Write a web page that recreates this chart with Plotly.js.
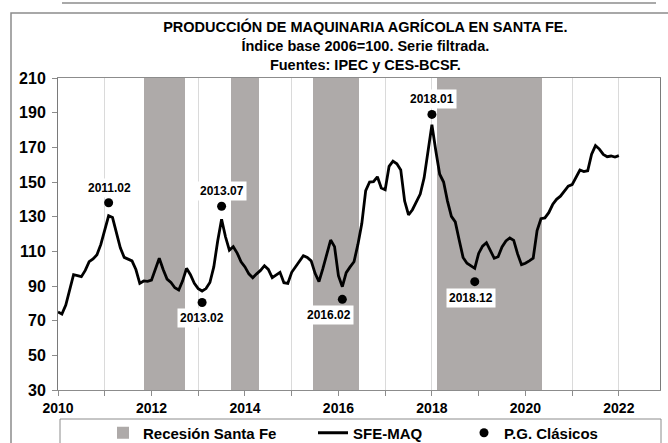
<!DOCTYPE html>
<html>
<head>
<meta charset="utf-8">
<script src="https://cdn.plot.ly/plotly-3.0.1.min.js"></script>
<style>
html,body{margin:0;padding:0;background:#fff;}
#chart{width:668px;height:443px;}
</style>
</head>
<body>
<div id="chart"></div>
<script>
// ---------- DATA ----------
const years = [2010, 2011, 2012, 2013, 2014, 2015, 2016, 2017, 2018, 2019, 2020, 2021, 2022];
const sfe2010 = [75, 73.8, 79, 88.5, 96.5, 96, 95.4, 99, 104, 105.6, 108, 114];
const sfe2011 = [122.3, 130.5, 129.5, 120, 112, 106.5, 105.5, 104.5, 99.5, 91.5, 92.9, 92.7];
const sfe2012 = [93.4, 100, 106, 99.5, 94, 92, 89, 87.7, 93, 100.2, 96.5, 91.5];
const sfe2013 = [88.5, 87.1, 88.5, 92, 101, 116, 128.5, 118.4, 110.7, 112.7, 109, 104];
const sfe2014 = [101, 97, 94.8, 97, 99, 101.7, 99.6, 94.8, 96.5, 97.9, 91.9, 91.5];
const sfe2015 = [97.9, 101, 104.5, 107.5, 106.5, 104.5, 97.3, 92.5, 100, 108.7, 116.5, 112.7];
const sfe2016 = [96, 89.6, 97.7, 101, 104, 114, 126, 145, 150, 150.2, 153, 146.5];
const sfe2017 = [145.5, 159, 162, 160.5, 157, 139, 131, 134, 138.5, 143, 152.4, 168];
const sfe2018 = [183, 168, 154.5, 150, 139, 130.2, 127, 116.5, 106.5, 103.1, 101.5, 100.2];
const sfe2019 = [108.8, 113, 115, 110.7, 106, 106.9, 112.5, 116, 117.7, 116.3, 108.5, 102.3];
const sfe2020 = [103.1, 104.5, 106, 122, 128.8, 129.3, 132.3, 137, 140, 141.8, 145, 147.6];
const sfe2021 = [148.5, 152.5, 156.9, 156, 156.5, 166, 171, 169, 165.9, 164.6, 165, 164.4];
const sfe2022 = [165.2];

const recessionStart = [2011.83, 2013.71, 2015.46, 2018.11];
const recessionEnd   = [2012.72, 2014.29, 2016.45, 2020.35];

const pgLabels = ['2011.02', '2013.02', '2013.07', '2016.02', '2018.01', '2018.12'];
const pgValues = [138, 80.5, 136, 82.3, 189, 92.5];

const xTickValues = [2010, 2012, 2014, 2016, 2018, 2020, 2022];
const xTickLabels = ['2010', '2012', '2014', '2016', '2018', '2020', '2022'];
const yTickValues = [30, 50, 70, 90, 110, 130, 150, 170, 190, 210];

// ---------- BUILD ----------
const seriesByYear = [sfe2010, sfe2011, sfe2012, sfe2013, sfe2014, sfe2015, sfe2016,
                      sfe2017, sfe2018, sfe2019, sfe2020, sfe2021, sfe2022];
const lineX = [], lineY = [];
seriesByYear.forEach((arr, k) => {
  arr.forEach((v, m) => { lineX.push(years[k] + m / 12); lineY.push(v); });
});

const pgX = pgLabels.map(s => {
  const [y, m] = s.split('.');
  return Number(y) + (Number(m) - 1) / 12;
});

const Y_MIN = 30, Y_MAX = 210;

const FONT = 'Liberation Sans, Arial, Helvetica, sans-serif';

const traces = [
  {
    type: 'bar',
    name: 'Recesión Santa Fe',
    x: recessionStart.map((s, i) => (s + recessionEnd[i]) / 2),
    width: recessionStart.map((s, i) => recessionEnd[i] - s),
    y: recessionStart.map(() => Y_MAX - Y_MIN),
    base: Y_MIN,
    marker: {color: '#aeaaa9', line: {width: 0}},
    hoverinfo: 'skip',
    legend: 'legend'
  },
  {
    type: 'scatter',
    mode: 'lines',
    name: 'SFE-MAQ',
    x: lineX,
    y: lineY,
    line: {color: '#000000', width: 2.8},
    legend: 'legend2'
  },
  {
    type: 'scatter',
    mode: 'markers',
    name: 'P.G. Clásicos',
    x: pgX,
    y: pgValues,
    marker: {color: '#000000', size: 9},
    legend: 'legend3'
  }
];

// label offsets (pixels) – layout only
const labelShift = {
  '2011.02': [1, 15], '2013.07': [0, 15], '2018.01': [0, 15],
  '2013.02': [0, -16], '2016.02': [-13, -16], '2018.12': [-4, -16]
};

const annotations = pgLabels.map((lab, i) => ({
  x: pgX[i], y: pgValues[i], xref: 'x', yref: 'y',
  text: lab, showarrow: false,
  xshift: labelShift[lab][0], yshift: labelShift[lab][1],
  bgcolor: '#ffffff', borderpad: 2,
  font: {family: FONT, size: 12, color: '#000', weight: 'bold'}
}));

// plot area: x 58..660, y 78..390
const PX = px => (px - 58) / 602;
const PY = py => (390 - py) / 312;

const legendCommon = {
  orientation: 'h', yanchor: 'middle', xanchor: 'left',
  bgcolor: 'rgba(0,0,0,0)', borderwidth: 0,
  font: {family: FONT, size: 15, color: '#000', weight: 'bold'}
};

const layout = {
  width: 668, height: 443,
  margin: {l: 58, r: 8, t: 78, b: 53, pad: 0, autoexpand: false},
  paper_bgcolor: '#ffffff',
  plot_bgcolor: '#ffffff',
  font: {family: FONT, color: '#000'},
  showlegend: true,
  bargap: 0,
  title: {
    text: 'PRODUCCIÓN DE MAQUINARIA AGRÍCOLA EN SANTA FE.<br>Índice base 2006=100. Serie filtrada.<br>Fuentes: IPEC y CES-BCSF.',
    font: {family: FONT, size: 14.5, color: '#000', weight: 'bold'},
    xref: 'container', x: 0.547, xanchor: 'center',
    yref: 'container', y: 1 - 32 / 443, yanchor: 'top'
  },
  xaxis: {
    range: [2010, 2022.88],
    tickmode: 'array', tickvals: xTickValues, ticktext: xTickLabels,
    ticks: 'outside', ticklen: 5, tickcolor: '#8c8c8c', tickwidth: 1,
    ticklabelstandoff: 0,
    showgrid: true, gridcolor: '#dadada', gridwidth: 1,
    minor: {dtick: 1, tick0: 2010, ticks: 'outside', ticklen: 5, tickcolor: '#8c8c8c',
            showgrid: true, gridcolor: '#dadada', gridwidth: 1},
    showline: true, linecolor: '#8c8c8c', linewidth: 1, mirror: true,
    zeroline: false, fixedrange: true,
    tickfont: {family: FONT, size: 14, color: '#000', weight: 'bold'}
  },
  yaxis: {
    range: [Y_MIN, Y_MAX],
    tickmode: 'array', tickvals: yTickValues,
    ticks: 'outside', ticklen: 5, tickcolor: '#8c8c8c', tickwidth: 1,
    ticklabelstandoff: 3,
    showgrid: false,
    showline: true, linecolor: '#7a7a7a', linewidth: 1, mirror: true,
    zeroline: false, fixedrange: true,
    tickfont: {family: FONT, size: 16, color: '#000', weight: 'bold'}
  },
  legend:  Object.assign({x: PX(103), y: PY(433)}, legendCommon),
  legend2: Object.assign({x: PX(313), y: PY(433)}, legendCommon),
  legend3: Object.assign({x: PX(464), y: PY(433)}, legendCommon),
  annotations: annotations,
  shapes: [
    {type: 'rect', xref: 'paper', yref: 'paper', x0: PX(11), x1: PX(670), y0: PY(450), y1: PY(13),
     line: {color: '#8c8c8c', width: 1.5}, fillcolor: 'rgba(0,0,0,0)', layer: 'below'},
    {type: 'line', xref: 'paper', yref: 'paper', x0: PX(62), x1: PX(656), y0: PY(3), y1: PY(3),
     line: {color: '#8c8c8c', width: 1.5}},
    {type: 'rect', xref: 'paper', yref: 'paper', x0: PX(60), x1: PX(661), y0: PY(450), y1: PY(419),
     line: {color: '#8c8c8c', width: 1}, fillcolor: 'rgba(0,0,0,0)'}
  ]
};

Plotly.newPlot('chart', traces, layout, {displayModeBar: false, staticPlot: true});
</script>
</body>
</html>
